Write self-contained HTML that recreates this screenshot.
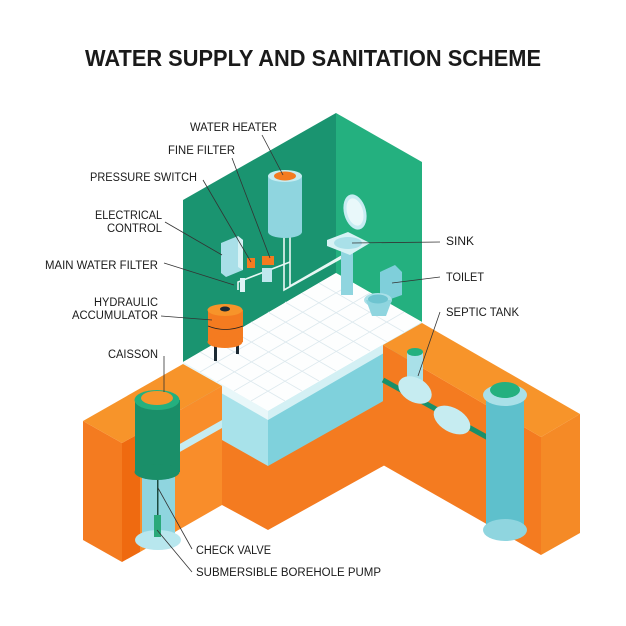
<!DOCTYPE html>
<html><head><meta charset="utf-8"><style>
html,body{margin:0;padding:0;background:#fff;}
svg{display:block;}
text{font-family:"Liberation Sans",sans-serif;fill:#1a1a1a;}
.l{font-size:11.5px;}
.ln{stroke:#333;stroke-width:0.8;fill:none;}
</style></head><body>
<svg width="626" height="626" viewBox="0 0 626 626" xmlns="http://www.w3.org/2000/svg">
<rect width="626" height="626" fill="#fff"/>
<text x="313" y="66" text-anchor="middle" font-size="23" font-weight="bold" textLength="456" lengthAdjust="spacingAndGlyphs">WATER SUPPLY AND SANITATION SCHEME</text>

<!-- walls -->
<polygon points="336,113 183,200 183,362 336,273" fill="#1a9470"/>
<polygon points="336,113 422,162 422,322 336,273" fill="#24b07f"/>

<!-- floor block -->
<polygon points="183,362 268,411 268,490 183,441" fill="#a8e2ea"/>
<polygon points="268,411 422,322 422,410 268,490" fill="#7fd1dc"/>
<polygon points="222,440 268,466 385,400 385,465 268,530 222,505" fill="#f47b20"/>
<polygon points="183,362 268,411 268,420 183,371" fill="#e8f7f9"/>
<polygon points="268,411 422,322 422,331 268,420" fill="#d3f0f4"/>
<polygon points="336,273 183,362 268,411 422,322" fill="#fdfefe"/>
<g stroke="#dde9ee" stroke-width="0.8">
<line x1="200" y1="352" x2="285" y2="401"/><line x1="217" y1="342" x2="302" y2="391"/><line x1="234" y1="332" x2="319" y2="381"/><line x1="251" y1="322" x2="336" y2="371"/><line x1="268" y1="312" x2="353" y2="361"/><line x1="285" y1="302" x2="370" y2="351"/><line x1="302" y1="293" x2="387" y2="342"/><line x1="319" y1="283" x2="404" y2="332"/>
<line x1="200" y1="372" x2="353" y2="283"/><line x1="217" y1="382" x2="370" y2="293"/><line x1="234" y1="391" x2="387" y2="302"/><line x1="251" y1="401" x2="404" y2="312"/>
</g>

<!-- wall pipes -->
<g stroke="#e8f7f4" stroke-width="1.6" fill="none">
<polyline points="284,235 284,290 345,256"/>
<polyline points="290,235 290,286 347,253"/>
<polyline points="238,290 238,282 290,262"/>
</g>

<!-- water heater -->
<rect x="268" y="176" width="34" height="56" fill="#8fd5df"/>
<ellipse cx="285" cy="232" rx="17" ry="6" fill="#8fd5df"/>
<ellipse cx="285" cy="176" rx="17" ry="6" fill="#c6ecf1"/>
<ellipse cx="285" cy="176" rx="11" ry="4.5" fill="#f47b20"/>
<!-- electrical control -->
<polygon points="221,243 238,236 243,240 243,270 226,277 221,273" fill="#a9dfe8"/>
<polygon points="238,236 243,240 243,270 238,267" fill="#d7f2f5"/>
<rect x="247" y="258" width="8" height="10" fill="#f47b20"/>
<rect x="262" y="256" width="12" height="9" fill="#f47b20"/>
<rect x="262" y="268" width="10" height="14" fill="#bfe7ee"/>
<rect x="240" y="278" width="5" height="14" fill="#dff3f6"/>
<!-- accumulator -->
<rect x="214" y="343" width="3" height="18" fill="#1c2a33"/>
<rect x="236" y="338" width="3" height="16" fill="#1c2a33"/>
<rect x="208" y="310" width="35" height="32" fill="#f47b20"/>
<ellipse cx="225" cy="342" rx="17.5" ry="6" fill="#f47b20"/>
<ellipse cx="225" cy="310" rx="17.5" ry="6" fill="#f7942a"/>
<ellipse cx="225" cy="309" rx="5" ry="2.5" fill="#1c2a33"/>
<path d="M208,326 Q225,333 243,326" stroke="#222" stroke-width="0.8" fill="none"/>

<!-- mirror, sink, toilet -->
<ellipse cx="355" cy="212" rx="11" ry="18" fill="#c7ecf2" transform="rotate(-15 355 212)"/>
<ellipse cx="355" cy="212" rx="8" ry="14" fill="#e9f8fa" transform="rotate(-15 355 212)"/>
<rect x="341" y="250" width="12" height="45" fill="#8fd5df"/>
<polygon points="327,240 348,232 370,243 350,255 327,246" fill="#d7f2f5"/>
<ellipse cx="348" cy="243" rx="14" ry="6" fill="#a9e0e8"/>
<polygon points="380,272 395,265 402,272 402,295 388,300 380,294" fill="#7fcfda"/>
<ellipse cx="378" cy="300" rx="14" ry="7" fill="#a9e0e8"/>
<polygon points="366,300 392,300 386,316 372,316" fill="#8fd5df"/>
<ellipse cx="378" cy="299" rx="10" ry="4.5" fill="#6ec4d0"/>

<!-- left orange block -->
<polygon points="140,433 222,386 222,505 140,552" fill="#f98d2a"/>
<polygon points="83,421 122,443 122,562 83,540" fill="#f47b20"/>
<polygon points="122,443 140,433 140,552 122,562" fill="#ef6a10"/>
<polygon points="83,421 183,364 222,386 140,433 122,443" fill="#f7942a"/>
<polygon points="178,445 222,420 222,428 178,453" fill="#c6ecf1"/>
<!-- caisson -->
<rect x="142" y="470" width="33" height="70" fill="#8fd5df"/>
<ellipse cx="158" cy="540" rx="23" ry="10" fill="#b8e7ee"/>
<rect x="157" y="472" width="1.5" height="45" fill="#1c4a40"/>
<rect x="154" y="515" width="7" height="22" fill="#2aa97a"/>
<rect x="135" y="400" width="45" height="72" fill="#1a8f69"/>
<ellipse cx="157" cy="472" rx="22.5" ry="8" fill="#1a8f69"/>
<ellipse cx="157" cy="400" rx="22.5" ry="10" fill="#24b07f"/>
<ellipse cx="157" cy="398" rx="16" ry="7" fill="#f7942a"/>

<!-- right orange block -->
<polygon points="383,345 541,437 541,555 383,465" fill="#f47b20"/>
<polygon points="541,437 580,414 580,533 541,555" fill="#f58a26"/>
<polygon points="383,345 422,323 580,414 541,437" fill="#f7942a"/>
<!-- septic -->
<line x1="383" y1="380" x2="492" y2="440" stroke="#1a8f69" stroke-width="5"/>
<rect x="407" y="352" width="16" height="42" fill="#a9e0e8"/>
<ellipse cx="415" cy="352" rx="8" ry="4" fill="#24b07f"/>
<ellipse cx="415" cy="390" rx="18" ry="12" fill="#c6ecf1" transform="rotate(30 415 390)"/>
<ellipse cx="452" cy="420" rx="20" ry="12" fill="#c6ecf1" transform="rotate(30 452 420)"/>
<rect x="486" y="395" width="38" height="135" fill="#5ec0cc"/>
<ellipse cx="505" cy="530" rx="22" ry="11" fill="#8fd5df"/>
<ellipse cx="505" cy="395" rx="22" ry="11" fill="#a9e0e8"/>
<ellipse cx="505" cy="390" rx="15" ry="8" fill="#24b07f"/>

<!-- leaders -->
<g class="ln">
<line x1="262" y1="135" x2="283" y2="175"/>
<line x1="232" y1="158" x2="270" y2="258"/>
<line x1="203" y1="180" x2="251" y2="262"/>
<line x1="165" y1="222" x2="222" y2="255"/>
<line x1="164" y1="263" x2="234" y2="285"/>
<line x1="161" y1="316" x2="212" y2="320"/>
<line x1="164" y1="356" x2="164" y2="392"/>
<line x1="440" y1="242" x2="352" y2="243"/>
<line x1="440" y1="277" x2="392" y2="283"/>
<line x1="440" y1="312" x2="418" y2="376"/>
<line x1="192" y1="549" x2="158" y2="488"/>
<line x1="192" y1="572" x2="157" y2="530"/>
</g>

<!-- labels -->
<text class="l" x="190" y="131" textLength="87" lengthAdjust="spacingAndGlyphs">WATER HEATER</text>
<text class="l" x="168" y="154" textLength="67" lengthAdjust="spacingAndGlyphs">FINE FILTER</text>
<text class="l" x="90" y="181" textLength="107" lengthAdjust="spacingAndGlyphs">PRESSURE SWITCH</text>
<text class="l" x="162" y="219" text-anchor="end" textLength="67" lengthAdjust="spacingAndGlyphs">ELECTRICAL</text>
<text class="l" x="162" y="232" text-anchor="end" textLength="55" lengthAdjust="spacingAndGlyphs">CONTROL</text>
<text class="l" x="45" y="269" textLength="113" lengthAdjust="spacingAndGlyphs">MAIN WATER FILTER</text>
<text class="l" x="158" y="306" text-anchor="end" textLength="64" lengthAdjust="spacingAndGlyphs">HYDRAULIC</text>
<text class="l" x="158" y="319" text-anchor="end" textLength="86" lengthAdjust="spacingAndGlyphs">ACCUMULATOR</text>
<text class="l" x="108" y="358" textLength="50" lengthAdjust="spacingAndGlyphs">CAISSON</text>
<text class="l" x="446" y="245" textLength="28" lengthAdjust="spacingAndGlyphs">SINK</text>
<text class="l" x="446" y="281" textLength="38" lengthAdjust="spacingAndGlyphs">TOILET</text>
<text class="l" x="446" y="316" textLength="73" lengthAdjust="spacingAndGlyphs">SEPTIC TANK</text>
<text class="l" x="196" y="554" textLength="75" lengthAdjust="spacingAndGlyphs">CHECK VALVE</text>
<text class="l" x="196" y="576" textLength="185" lengthAdjust="spacingAndGlyphs">SUBMERSIBLE BOREHOLE PUMP</text>
</svg>
</body></html>
